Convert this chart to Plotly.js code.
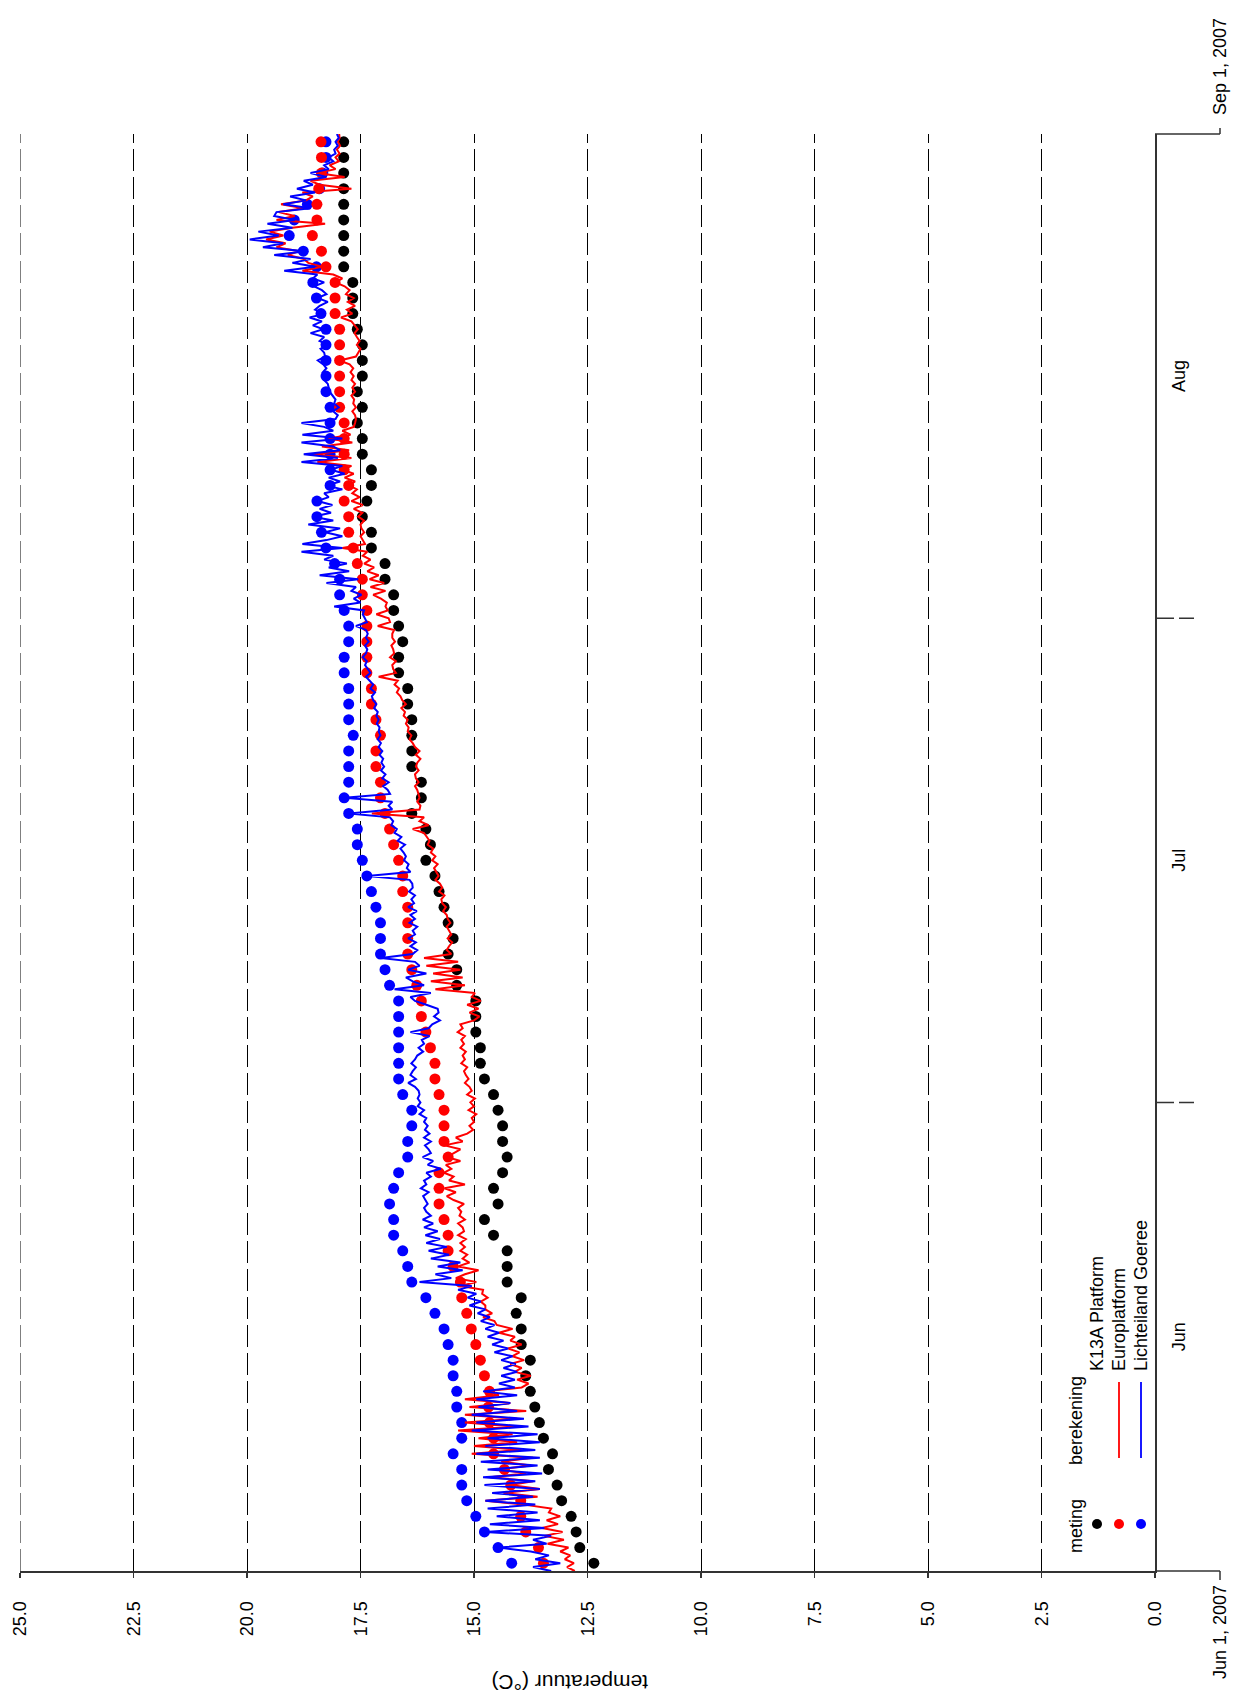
<!DOCTYPE html>
<html><head><meta charset="utf-8">
<script src="https://cdn.plot.ly/plotly-3.0.1.min.js"></script>
<style>
html,body{margin:0;padding:0;background:#fff;overflow:hidden;width:1239px;height:1696px;}
#wrap{position:absolute;left:0;top:0;width:1696px;height:1239px;transform-origin:0 0;transform:translate(0px,1696px) rotate(-90deg);}
#chart{width:1696px;height:1239px;}
</style></head><body>
<div id="wrap"><div id="chart"></div></div>
<script>
// ---------- DATA ----------
const measureStart = '2007-06-01T12:00:00Z';   // daily measurements (meting), one per day at noon
const measureStepHours = 24;
const calcStart = '2007-06-01T00:00:00Z';      // model output (berekening), every 6 hours
const calcStepHours = 6;

const stationNames = ['K13A Platform', 'Europlatform', 'Lichteiland Goeree'];
const legendHeaders = ['meting', 'berekening'];
const monthTicks = ['2007-06-01', '2007-07-01', '2007-08-01', '2007-09-01'];
const endLabels = ['Jun 1, 2007', 'Sep 1, 2007'];
const yTitle = 'temperatuur (°C)';

// meting (dots)
const k13aMeting = [12.36,12.67,12.75,12.86,13.07,13.17,13.36,13.27,13.47,13.56,
 13.66,13.76,13.86,13.76,13.96,13.96,14.07,13.96,14.27,14.27,
 14.27,14.57,14.77,14.47,14.57,14.37,14.27,14.37,14.37,14.47,
 14.57,14.77,14.86,14.86,14.96,14.96,14.96,15.38,15.38,15.57,
 15.46,15.57,15.66,15.77,15.86,16.06,15.96,16.06,16.37,16.16,
 16.16,16.37,16.37,16.37,16.37,16.46,16.46,16.66,16.66,16.57,
 16.66,16.77,16.77,16.96,16.96,17.26,17.26,17.46,17.36,17.26,
 17.26,17.46,17.46,17.57,17.46,17.57,17.46,17.46,17.46,17.57,
 17.67,17.67,17.67,17.87,17.87,17.87,17.87,17.87,17.87,17.87,
 17.87,17.87];
const europlatformMeting = [13.47,13.58,13.86,13.97,13.97,14.19,14.33,14.57,14.57,14.66,
 14.68,14.66,14.77,14.86,14.96,15.06,15.16,15.27,15.30,15.46,
 15.57,15.57,15.66,15.77,15.77,15.77,15.57,15.66,15.66,15.66,
 15.77,15.86,15.86,15.96,16.06,16.16,16.16,16.26,16.37,16.46,
 16.46,16.46,16.46,16.57,16.57,16.66,16.77,16.86,16.96,17.06,
 17.06,17.16,17.16,17.06,17.16,17.26,17.26,17.36,17.36,17.36,
 17.36,17.36,17.46,17.46,17.57,17.66,17.76,17.76,17.86,17.76,
 17.86,17.86,17.86,17.86,17.96,17.96,17.96,17.96,17.96,17.96,
 18.06,18.06,18.06,18.26,18.36,18.56,18.46,18.46,18.42,18.36,
 18.36,18.37];
const goereeMeting = [14.17,14.47,14.77,14.96,15.16,15.27,15.27,15.46,15.27,15.27,
 15.38,15.38,15.46,15.46,15.57,15.66,15.86,16.06,16.37,16.46,
 16.57,16.77,16.77,16.86,16.77,16.66,16.46,16.46,16.37,16.37,
 16.57,16.66,16.66,16.66,16.66,16.66,16.66,16.86,16.96,17.06,
 17.06,17.06,17.16,17.26,17.36,17.46,17.57,17.57,17.76,17.86,
 17.76,17.76,17.76,17.66,17.76,17.76,17.76,17.86,17.86,17.76,
 17.76,17.86,17.96,17.96,18.07,18.26,18.36,18.46,18.46,18.17,
 18.17,18.17,18.17,18.17,18.17,18.26,18.26,18.26,18.26,18.26,
 18.37,18.47,18.55,18.47,18.76,19.07,18.96,18.67,18.40,18.33,
 18.26,18.26];

// berekening (lines), 6-hourly
const europlatformBerekening = [
12.78,12.95,12.80,13.00, 12.88,13.10,12.92,13.38, 13.02,13.45,13.05,13.50, 13.15,13.40,13.10,13.35, 13.30,13.90,14.75,13.60,
14.35,13.55,14.20,13.70, 14.65,13.85,14.45,13.75, 14.40,13.70,15.05,13.95, 15.00,14.05,14.90,14.15, 15.35,14.10,15.20,14.05,
15.20,13.85,15.10,14.20, 15.20,14.45,14.75,13.95, 13.80,14.05,13.75,14.10, 13.95,14.20,13.90,14.15, 14.00,14.25,13.95,14.20,
14.10,14.45,14.15,14.50, 14.55,14.80,14.60,14.75, 14.75,14.85,14.70,14.82, 14.80,15.30,14.95,15.40, 15.20,14.90,15.35,15.10,
15.25,15.15,15.30,15.20, 15.30,15.18,15.35,15.22, 15.25,15.35,15.20,15.32, 15.28,15.35,15.22,15.45, 15.60,15.40,15.65,15.20,
15.55,15.45,15.66,15.50, 15.62,15.30,15.60,15.45, 15.30,15.65,15.25,15.40, 15.15,15.02,15.10,15.00, 15.05,14.95,15.12,15.00,
15.08,14.98,15.15,15.05, 15.10,15.20,15.12,15.18, 15.22,15.15,15.28,15.20, 15.25,15.18,15.30,15.22, 15.28,15.20,15.36,15.25,
15.30,15.00,14.88,15.10, 14.90,15.15,14.85,15.05, 14.98,15.85,15.20,15.95, 15.25,15.90,15.30,16.05, 15.35,16.10,15.50,15.60,
15.55,15.48,15.58,15.50, 15.55,15.60,15.52,15.58, 15.60,15.68,15.62,15.70, 15.72,15.65,15.77,15.70, 15.75,15.85,15.78,15.84,
15.88,15.80,15.92,15.85, 15.95,15.90,16.02,15.98, 16.05,16.10,16.35,16.00, 16.20,16.10,17.25,16.20, 16.18,16.25,16.20,16.22,
16.25,16.30,16.22,16.28, 16.30,16.22,16.28,16.25, 16.18,16.28,16.20,16.30, 16.35,16.42,16.38,16.46, 16.44,16.50,16.46,16.55,
16.52,16.60,16.50,16.58, 16.62,16.70,16.65,16.75, 16.68,17.10,16.72,16.78, 16.80,16.72,16.85,16.76, 16.78,16.82,16.74,16.80,
16.80,16.76,17.12,16.85, 16.88,17.15,16.90,16.95, 16.92,17.05,17.22,16.95, 17.28,16.98,17.30,17.10, 17.35,17.20,17.42,17.28,
17.45,17.35,17.90,17.40, 17.45,17.50,17.42,17.48, 17.50,17.42,17.55,17.46, 17.65,17.45,17.70,17.52, 17.68,17.58,17.75,17.62,
17.85,17.65,17.88,17.70, 18.45,17.70,18.55,17.75, 18.35,17.68,18.20,17.72, 17.90,17.65,17.62,17.60, 17.62,17.68,17.60,17.66,
17.64,17.70,17.62,17.68, 17.62,17.70,17.65,17.72, 17.66,17.74,17.96,17.60, 17.55,17.50,17.58,17.52, 17.58,17.63,17.56,17.62,
17.70,17.93,17.68,17.80, 17.62,17.78,17.65,17.82, 17.74,17.85,18.05,17.90, 18.10,18.78,18.35,18.65, 18.75,19.10,18.85,19.35,
19.15,19.58,19.20,19.50, 19.00,18.28,19.35,18.95, 19.30,18.75,19.25,18.70, 18.55,18.78,17.70,18.40, 18.60,17.85,18.45,18.05,
18.18,17.98,18.05,17.96, 18.02,17.95,18.00,17.96,
17.97];
const goereeBerekening = [
13.30,13.70,13.10,13.65, 13.35,13.75,14.45,13.40, 13.70,13.30,14.75,13.45, 14.65,13.55,14.50,13.60, 14.70,13.65,14.75,13.70,
14.60,13.55,14.77,13.65, 14.80,13.50,14.70,13.60, 14.85,13.55,14.95,13.65, 14.75,13.55,14.70,13.60, 15.05,13.80,14.95,13.90,
15.05,14.05,14.90,14.20, 14.95,14.05,14.80,14.10, 14.45,14.10,14.40,14.05, 14.35,14.08,14.40,14.15, 14.55,14.25,14.60,14.35,
14.70,14.45,14.75,14.55, 14.85,14.65,14.92,14.75, 15.10,14.85,15.14,14.95, 15.35,15.05,16.20,15.50, 15.85,15.25,15.80,15.30,
15.95,15.55,16.00,15.60, 16.05,15.75,16.07,15.80, 16.10,15.90,16.13,15.95, 16.05,16.10,16.02,16.08, 16.12,16.00,16.17,16.05,
16.10,15.95,16.05,15.73, 16.02,15.90,16.13,15.95, 16.00,16.08,15.95,16.10, 15.98,16.08,16.02,16.10, 16.05,16.20,16.10,16.24,
16.18,16.24,16.20,16.22, 16.30,16.45,16.28,16.40, 16.35,16.28,16.38,16.30, 16.25,16.12,16.22,16.10, 16.15,15.98,16.40,16.00,
15.92,15.75,15.88,15.78, 15.80,16.05,16.30,16.40, 15.95,16.75,16.10,16.35, 16.50,16.05,16.45,16.20, 16.30,17.05,16.35,16.25,
16.40,16.28,16.45,16.30, 16.35,16.25,16.42,16.30, 16.40,16.26,16.45,16.32, 16.38,16.30,16.43,16.35, 16.36,16.42,17.35,16.40,
16.48,16.44,16.54,16.50, 16.55,16.62,16.52,16.68, 16.60,16.75,16.70,16.82, 16.78,16.85,17.75,16.80, 16.88,16.80,17.85,16.85,
16.90,17.00,16.88,17.02, 16.95,17.05,16.98,17.04, 17.00,17.08,17.02,17.10, 17.05,17.12,17.06,17.10, 17.08,17.14,17.10,17.15,
17.12,17.20,17.15,17.22, 17.25,17.18,17.28,17.22, 17.30,17.38,17.28,17.35, 17.40,17.36,17.45,17.38, 17.35,17.40,17.32,17.38,
17.34,17.38,17.60,17.36, 17.40,17.45,17.42,18.08, 17.50,17.65,17.48,17.70, 17.60,18.25,17.55,18.40, 17.75,18.20,17.80,18.30,
18.10,18.80,17.90,18.78, 18.25,17.90,18.28,17.95, 18.65,18.10,18.55,18.15, 18.40,18.12,18.45,18.20, 18.30,17.90,18.25,17.95,
18.20,17.85,18.15,17.90, 18.80,18.00,18.75,17.95, 18.10,18.80,17.90,18.78, 18.10,18.30,18.80,18.05, 18.00,18.10,17.98,18.08,
18.05,18.12,18.18,18.20, 18.22,18.30,18.20,18.33, 18.25,18.32,18.44,18.28, 18.30,18.38,18.22,18.40, 18.30,18.60,18.32,18.55,
18.35,18.62,18.28,18.50, 18.40,18.22,18.45,18.25, 18.35,18.52,18.30,18.55, 18.45,19.18,18.50,19.00, 18.60,19.40,18.70,19.65,
19.20,19.94,19.30,19.75, 19.00,19.55,18.95,19.40, 19.35,18.60,19.20,18.70, 19.05,18.50,18.90,18.55, 18.75,18.25,18.60,18.20,
18.30,18.10,18.20,18.05, 18.08,18.00,18.05,17.98,
18.02];

const colors = {k13a:'#000000', euro:'#ff0000', goeree:'#0000ff'};

// ---------- TIME AXES ----------
function pad(n){return (n<10?'0':'')+n;}
function stamp(ms){const d=new Date(ms);return d.getUTCFullYear()+'-'+pad(d.getUTCMonth()+1)+'-'+pad(d.getUTCDate())+' '+pad(d.getUTCHours())+':'+pad(d.getUTCMinutes());}
function series(start, stepH, n){const t0=Date.parse(start);const out=[];for(let i=0;i<n;i++)out.push(stamp(t0+i*stepH*3600000));return out;}
const measureTimes = series(measureStart, measureStepHours, k13aMeting.length);
const calcTimes = series(calcStart, calcStepHours, europlatformBerekening.length);

// ---------- LAYOUT GEOMETRY (landscape, then rotated) ----------
const W=1696, H=1239, M={l:125,r:134,t:20,b:84};
const PW=W-M.l-M.r, PH=H-M.t-M.b;
const px=u=>(u-M.l)/PW;          // horizontal pixel -> paper
const py=v=>(H-M.b-v)/PH;        // vertical pixel -> paper
const axisCol='#333';
const gridStyle={color:'#000',width:1,dash:'22px,6px'};

const traces=[
 {type:'scatter',mode:'markers',x:measureTimes,y:goereeMeting,name:stationNames[2]+' meting',marker:{color:colors.goeree,size:11}},
 {type:'scatter',mode:'markers',x:measureTimes,y:europlatformMeting,name:stationNames[1]+' meting',marker:{color:colors.euro,size:11}},
 {type:'scatter',mode:'markers',x:measureTimes,y:k13aMeting,name:stationNames[0]+' meting',marker:{color:colors.k13a,size:11}},
 {type:'scatter',mode:'lines',x:calcTimes,y:europlatformBerekening,name:stationNames[1]+' berekening',line:{color:colors.euro,width:2}},
 {type:'scatter',mode:'lines',x:calcTimes,y:goereeBerekening,name:stationNames[2]+' berekening',line:{color:colors.goeree,width:2}}
];

const shapes=[
 // top gridline at 25.0 (edge gridline)
 {type:'line',xref:'paper',yref:'y',x0:0,x1:1,y0:25,y1:25,line:gridStyle,layer:'below'},
 // extended end ticks with hooks
 {type:'line',xref:'paper',yref:'paper',x0:0,x1:0,y0:0,y1:py(1220),line:{color:axisCol,width:1.5}},
 {type:'line',xref:'paper',yref:'paper',x0:0,x1:px(116),y0:py(1220),y1:py(1220),line:{color:axisCol,width:1.5}},
 {type:'line',xref:'paper',yref:'paper',x0:1,x1:1,y0:0,y1:py(1220),line:{color:axisCol,width:1.5}},
 {type:'line',xref:'paper',yref:'paper',x0:1,x1:px(1568),y0:py(1220),y1:py(1220),line:{color:axisCol,width:1.5}},
 // month boundary ticks
 {type:'line',xref:'x',yref:'paper',x0:monthTicks[1],x1:monthTicks[1],y0:0,y1:py(1194),line:{color:axisCol,width:1.5,dash:'19px,5px,15px'}},
 {type:'line',xref:'x',yref:'paper',x0:monthTicks[2],x1:monthTicks[2],y0:0,y1:py(1194),line:{color:axisCol,width:1.5,dash:'19px,5px,15px'}}
];
// legend glyphs
const rowV=[1097,1119,1141];
const dotU=172, lineU0=238, lineU1=314, labelU=323;
const rowCols=[colors.k13a,colors.euro,colors.goeree];
rowV.forEach((v,i)=>{
  shapes.push({type:'circle',xref:'paper',yref:'paper',x0:px(dotU-5),x1:px(dotU+5),y0:py(v-5),y1:py(v+5),fillcolor:rowCols[i],line:{width:0}});
  if(i>0) shapes.push({type:'line',xref:'paper',yref:'paper',x0:px(lineU0),x1:px(lineU1),y0:py(v),y1:py(v),line:{color:rowCols[i],width:1.8}});
});

const font={family:'"Liberation Sans", Arial, Helvetica, sans-serif',size:18,color:'#000'};
const annotations=[
 {xref:'paper',yref:'paper',x:px(141),y:py(1076),xanchor:'left',yanchor:'middle',text:legendHeaders[0],showarrow:false,font:font},
 {xref:'paper',yref:'paper',x:px(229),y:py(1076),xanchor:'left',yanchor:'middle',text:legendHeaders[1],showarrow:false,font:font},
 {xref:'paper',yref:'paper',x:px(113),y:py(1220),xanchor:'right',yanchor:'middle',text:endLabels[0],showarrow:false,font:font},
 {xref:'paper',yref:'paper',x:px(1579),y:py(1220),xanchor:'left',yanchor:'middle',text:endLabels[1],showarrow:false,font:font},
 // y-axis title
 {xref:'paper',yref:'paper',x:px(13),y:py(569),xanchor:'center',yanchor:'middle',textangle:-90,text:yTitle,showarrow:false,font:Object.assign({},font,{size:21})}
];
rowV.forEach((v,i)=>annotations.push({xref:'paper',yref:'paper',x:px(labelU),y:py(v),xanchor:'left',yanchor:'middle',text:stationNames[i],showarrow:false,font:font}));

const layout={
 width:W,height:H,margin:{l:M.l,r:M.r,t:M.t,b:M.b,pad:0},
 paper_bgcolor:'#fff',plot_bgcolor:'#fff',font:font,showlegend:false,
 xaxis:{type:'date',range:[monthTicks[0],monthTicks[3]],tick0:monthTicks[0],dtick:'M1',ticklabelmode:'period',tickformat:'%b',
   ticks:'',showgrid:false,zeroline:false,showline:true,linecolor:axisCol,linewidth:1.5,ticklabelstandoff:7,automargin:false,fixedrange:true},
 yaxis:{range:[0,25],tick0:0,dtick:2.5,tickformat:'.1f',ticks:'outside',ticklen:5,tickwidth:1.5,tickcolor:axisCol,
   showline:true,linecolor:axisCol,linewidth:1.5,showgrid:true,gridcolor:gridStyle.color,gridwidth:gridStyle.width,griddash:gridStyle.dash,
   zeroline:false,ticklabelstandoff:20,automargin:false,fixedrange:true},
 shapes:shapes,annotations:annotations
};
Plotly.newPlot('chart',traces,layout,{staticPlot:true,displayModeBar:false});
</script>
</body></html>
